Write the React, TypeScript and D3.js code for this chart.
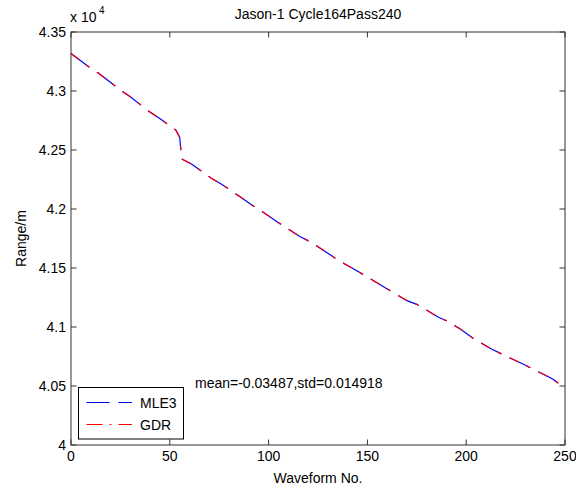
import React from "react";
import * as d3 from "d3";

const waveform = [0, 10, 14, 25, 30, 39, 46, 53, 55, 56, 61, 71, 76, 85, 91, 101, 105, 116, 121, 136, 144, 154, 159, 170, 175, 186, 190, 197, 204, 213, 218, 229, 233, 244, 248];
const mle3 = [43318, 43192, 43150, 43008, 42952, 42833, 42754, 42670, 42608, 42424, 42381, 42260, 42212, 42110, 42040, 41930, 41884, 41765, 41723, 41559, 41483, 41384, 41333, 41223, 41192, 41082, 41053, 40983, 40898, 40811, 40771, 40684, 40650, 40557, 40505];
const gdr = [43318.03, 43192.02, 43150.05, 43008.04, 42952.03, 42833.02, 42754.04, 42670.03, 42608.05, 42424.02, 42381.04, 42260.03, 42212.02, 42110.04, 42040.03, 41930.05, 41884.03, 41765.02, 41723.04, 41559.03, 41483.02, 41384.05, 41333.03, 41223.04, 41192.02, 41082.03, 41053.04, 40983.02, 40898.05, 40811.03, 40771.02, 40684.04, 40650.03, 40557.02, 40505.04];
const xTicks = [0, 50, 100, 150, 200, 250];
const yTicks = [40000, 40500, 41000, 41500, 42000, 42500, 43000, 43500];
const yTickLabels = ["4", "4.05", "4.1", "4.15", "4.2", "4.25", "4.3", "4.35"];
const seriesNames = ["MLE3", "GDR"];

const W = 576, H = 488;
const L = 71, R = 565, T = 32, B = 445;
const FONT = "'Liberation Sans', Arial, Helvetica, sans-serif";

export default function App() {
  const x = d3.scaleLinear().domain([0, 250]).range([L, R]);
  const y = d3.scaleLinear().domain([40000, 43500]).range([B, T]);
  const line = d3.line<number>().x((_, i) => x(waveform[i])).y((d) => y(d));
  const tl = 5.5;
  const axisColor = "#333";
  return (
    <svg width={W} height={H} style={{ position: "absolute", left: 0, top: 0, background: "#fff" }} fontFamily={FONT}>
      <rect x={0} y={0} width={W} height={H} fill="#fff" />
      {/* data */}
      <path d={line(mle3) || ""} fill="none" stroke="#0000ff" strokeWidth={1.2} strokeDasharray="23,9" />
      <path d={line(gdr) || ""} fill="none" stroke="#ff0000" strokeWidth={1.2} strokeDasharray="10,9,4,9" />
      {/* axes box */}
      <rect x={L} y={T} width={R - L} height={B - T} fill="none" stroke={axisColor} strokeWidth={1} />
      {xTicks.map((t) => (
        <g key={"x" + t}>
          <line x1={x(t)} x2={x(t)} y1={B} y2={B - tl} stroke={axisColor} />
          <line x1={x(t)} x2={x(t)} y1={T} y2={T + tl} stroke={axisColor} />
          <text x={x(t)} y={B + 16} fontSize={14} textAnchor="middle" fill="#000">{t}</text>
        </g>
      ))}
      {yTicks.map((t, i) => (
        <g key={"y" + t}>
          <line x1={L} x2={L + tl} y1={y(t)} y2={y(t)} stroke={axisColor} />
          <line x1={R} x2={R - tl} y1={y(t)} y2={y(t)} stroke={axisColor} />
          <text x={L - 5} y={y(t) + 5} fontSize={14} textAnchor="end" fill="#000">{yTickLabels[i]}</text>
        </g>
      ))}
      {/* exponent */}
      <text x={70} y={22} fontSize={14} fill="#000">x 10</text>
      <text x={99} y={14} fontSize={10} fill="#000">4</text>
      {/* title & labels */}
      <text x={(L + R) / 2} y={19} fontSize={14} textAnchor="middle" fill="#000">Jason-1 Cycle164Pass240</text>
      <text x={(L + R) / 2} y={483} fontSize={14} textAnchor="middle" fill="#000">Waveform No.</text>
      <text transform={`translate(26,${(T + B) / 2}) rotate(-90)`} fontSize={14} textAnchor="middle" fill="#000">Range/m</text>
      <text x={195} y={388} fontSize={14} fill="#000">mean=-0.03487,std=0.014918</text>
      {/* legend */}
      <rect x={78.5} y={387.5} width={105} height={51.5} fill="#fff" stroke="#000" strokeWidth={1} />
      <line x1={86.5} x2={132} y1={402.5} y2={402.5} stroke="#0000ff" strokeWidth={1.2} strokeDasharray="23,9" />
      <line x1={86.5} x2={132} y1={424.5} y2={424.5} stroke="#ff0000" strokeWidth={1.2} strokeDasharray="16,7,2,7" />
      <text x={140} y={407.5} fontSize={14} fill="#000">{seriesNames[0]}</text>
      <text x={140} y={429.5} fontSize={14} fill="#000">{seriesNames[1]}</text>
    </svg>
  );
}
